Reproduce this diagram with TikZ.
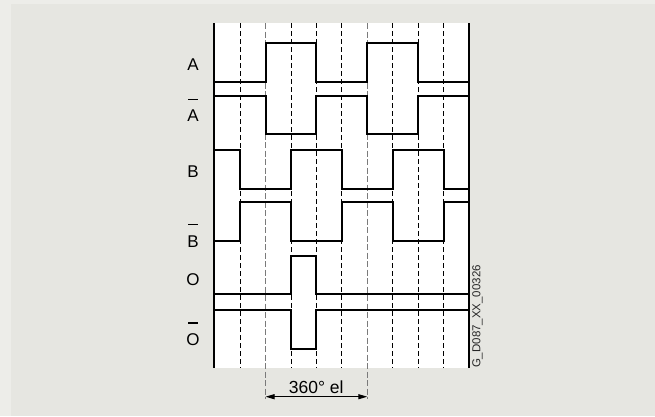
\documentclass[tikz,border=0pt]{standalone}
\usepackage{fontspec}
\setmainfont{Liberation Sans}
\usetikzlibrary{arrows.meta}
\definecolor{bgout}{HTML}{EDEDE9}
\definecolor{bggrey}{HTML}{E6E6E1}
\definecolor{dimgrey}{HTML}{7A7A7A}
\newsavebox\lblbox
\newcommand\barlbl[1]{\sbox\lblbox{#1}\vbox{\hbox to\wd\lblbox{\hss\vrule width 9.5pt height 1.1pt depth 0pt\hss}\kern 5pt\box\lblbox}}
\tikzset{
  sig/.style={line width=2pt, line join=miter},
  grid/.style={line width=0.9pt, dash pattern=on 5pt off 3pt, black},
  gridgrey/.style={line width=1.3pt, dash pattern=on 6pt off 2.5pt, dimgrey},
  lbl/.style={font=\fontsize{17}{17}\selectfont, anchor=base, inner sep=0pt},
}
\begin{document}
\begin{tikzpicture}[x=1pt,y=-1pt]
\useasboundingbox (0,0) rectangle (655,416);
\fill[bgout] (0,0) rectangle (655,416);
\fill[bggrey] (11,4) rectangle (655,416);
\fill[white] (213.5,23) rectangle (469,368);
% grid lines
\foreach \x in {240,291,316.3,341.8,392.7,418.2,443.6}
  \draw[grid] (\x,23) -- (\x,368);
\coordinate (g1t) at (265.5,23);
\coordinate (g1b) at (265.5,399);
\coordinate (g2t) at (367.3,23);
\coordinate (g2b) at (367.3,399);
\draw[gridgrey] (g1t) -- (g1b);
\draw[gridgrey] (g2t) -- (g2b);
% frame verticals
\draw[line width=2pt] (213.5,23) -- (213.5,368);
\draw[line width=2pt] (469,23) -- (469,368);
% signals
\draw[sig] (213.5,81.7) -- (265.5,81.7) -- (265.5,43.3) -- (316.3,43.3) -- (316.3,81.7) -- (367.3,81.7) -- (367.3,43.3) -- (418.2,43.3) -- (418.2,81.7) -- (469,81.7);
\draw[sig] (213.5,96) -- (265.5,96) -- (265.5,133.5) -- (316.3,133.5) -- (316.3,96) -- (367.3,96) -- (367.3,133.5) -- (418.2,133.5) -- (418.2,96) -- (469,96);
\draw[sig] (213.5,150) -- (240,150) -- (240,188.7) -- (291,188.7) -- (291,150) -- (341.8,150) -- (341.8,188.7) -- (392.7,188.7) -- (392.7,150) -- (443.6,150) -- (443.6,188.7) -- (469,188.7);
\draw[sig] (213.5,241) -- (240,241) -- (240,202) -- (291,202) -- (291,241) -- (341.8,241) -- (341.8,202) -- (392.7,202) -- (392.7,241) -- (443.6,241) -- (443.6,202) -- (469,202);
\draw[sig] (213.5,294.3) -- (291,294.3) -- (291,256) -- (316.3,256) -- (316.3,294.3) -- (469,294.3);
\draw[sig] (213.5,310.3) -- (291,310.3) -- (291,349) -- (316.3,349) -- (316.3,310.3) -- (469,310.3);
% labels
\node[lbl] (la) at (193,70) {A};
\node[lbl] (lab) at (193,121.7) {\barlbl{A}};
\node[lbl] (lb) at (193,177.3) {B};
\node[lbl] (lbb) at (193,247) {\barlbl{B}};
\node[lbl] (lo) at (193,285.5) {O};
\node[lbl] (lob) at (193,345.5) {\barlbl{O}};
% dimension
\coordinate (d1) at (265.5,396.7);
\coordinate (d2) at (367.3,396.7);
\draw[line width=1pt, {Triangle[length=9pt,width=5pt]}-{Triangle[length=9pt,width=5pt]}] (d1) -- (d2);
\node[font=\fontsize{17.5}{17.5}\selectfont, anchor=base, inner sep=0pt] (dim) at (316.2,393.3) {360° el};
% code
\node[font=\fontsize{11.5}{11.5}\selectfont, rotate=90, inner sep=0pt, text=black!85] (code) at (477.5,316.5) {G\_D087\_XX\_00326};
\end{tikzpicture}
\end{document}
